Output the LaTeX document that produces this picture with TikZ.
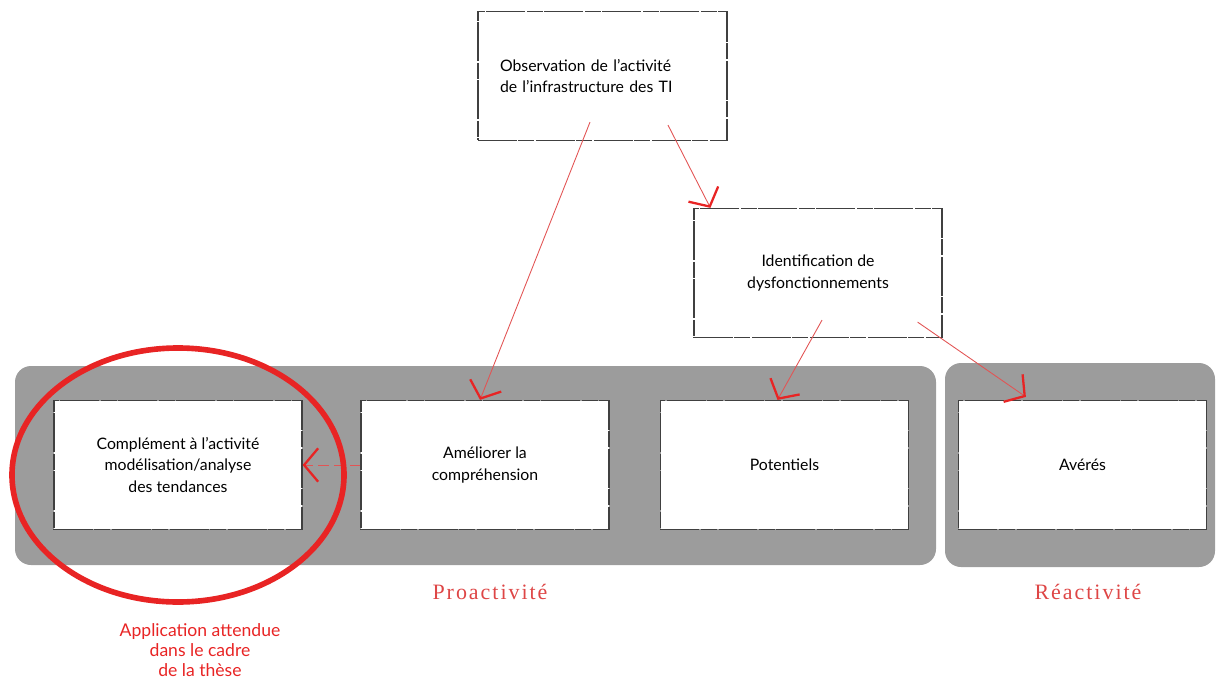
\documentclass[tikz,border=0pt]{standalone}
\usepackage{fontspec}
\setmainfont{Lato}
\newfontfamily\tagfont[LetterSpace=9]{Liberation Serif}
\usetikzlibrary{arrows.meta, positioning, calc}

\definecolor{bandgray}{RGB}{156,156,156}
\definecolor{linkred}{RGB}{226,84,84}
\definecolor{tipred}{RGB}{232,36,36}
\definecolor{tagred}{RGB}{222,70,70}

\begin{document}
\begin{tikzpicture}[x=0.02cm, y=0.02cm,
			box/.style = {
				draw=black!75, fill=white, line width=0.7pt,
				dash pattern=on 22pt off 1pt on 9pt off 1pt,
				minimum width=4.96cm, minimum height=2.58cm,
				font=\fontsize{9}{12.5}\selectfont, align=center
			},
			band/.style = {
				fill=bandgray, rounded corners=0.32cm
			},
			link/.style = {
				color=linkred, line width=0.5pt,
				-{Straight Barb[length=8pt, width=19pt, line width=1.3pt, color=tipred]}
			},
			tag/.style = {
				text=tagred, font=\tagfont\fontsize{12.5}{14}\selectfont
			}]
			\useasboundingbox (0,0) rectangle (1216,681);

			% bandeaux gris
			\fill [band] (15,116) rectangle (936,315);
			\fill [band] (945,114) rectangle (1215,318);

			% boites du haut
			\node (obs) [box, align=left, text width=4.1cm, inner xsep=0.44cm] at (602.5,605) {Observation de l'activité\\de l'infrastructure des TI};
			\node (ident) [box] at (818,408) {Identification de\\dysfonctionnements};

			% boites de la rangee
			\node (comp) [box] at (178,216) {Complément à l'activité\\modélisation/analyse\\des tendances};
			\node (amel) [box] at (485,216) {Améliorer la\\compréhension};
			\node (pot) [box] at (784.5,216) {Potentiels};
			\node (ave) [box] at (1082.5,216) {Avérés};

			\node (proact) [tag] at (490,89) {Proactivité};
			\node (react) [tag] at (1088,89) {Réactivité};

			\path [link]
			($(obs.south)+(-12.5,19)$) edge ($(amel.north)+(-5,0)$)
			($(obs.south)+(65.5,16)$) edge ($(ident.north west)+(17,0)$)
			($(ident.south)+(4,18)$) edge ($(pot.north)+(-7,0)$)
			($(ident.south east)+(-25,16)$) edge ($(ave.north west)+(68,3)$)
			(amel.west) edge [dash pattern=on 6pt off 3pt] (comp.east);

			% cercle rouge
			\draw [tipred, line width=3.2pt] (178,206) ellipse [x radius=166, y radius=127];

			\node (appli) [text=tipred, font=\fontsize{10}{11.2}\selectfont, align=center] at (200,31) {Application attendue\\dans le cadre\\de la thèse};
		\end{tikzpicture}
\end{document}
